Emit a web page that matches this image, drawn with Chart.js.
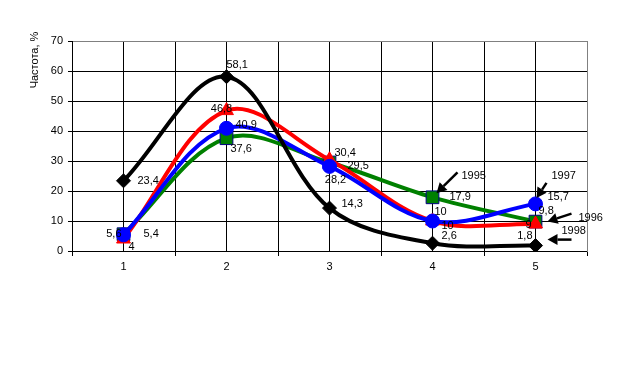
<!DOCTYPE html>
<html>
<head>
<meta charset="utf-8">
<script src="https://cdn.jsdelivr.net/npm/chart.js@4"></script>
<style>
html,body{margin:0;padding:0;background:#fff;}
canvas{display:block;}
</style>
</head>
<body>
<canvas id="c" width="621" height="379"></canvas>
<script>
// ---- data ----
const categories = ['1', '2', '3', '4', '5'];
const seriesBlack = [23.4, 58.1, 14.3, 2.6, 1.8];
const seriesGreen = [5.6, 37.6, 29.5, 17.9, 9.8];
const seriesRed   = [4, 46.8, 30.4, 10, 9];
const seriesBlue  = [5.4, 40.9, 28.2, 10, 15.7];
const yTicks = [0, 10, 20, 30, 40, 50, 60, 70];
const yTitle = 'Частота, %';
const yearNotes = [
  { text: '1995', series: 1, idx: 3 },
  { text: '1997', series: 3, idx: 4 },
  { text: '1996', series: 1, idx: 4 },
  { text: '1998', series: 0, idx: 4 }
];

// ---- label placement (pixel offsets from point, align) ----
const labelPlace = [
  [[14,0,'left'],[0,-12,'left'],[12,-4,'left'],[9,-7,'left'],[-3,-10,'right']],
  [[-2,0,'right'],[4,11,'left'],[18,3,'left'],[17,0,'left'],[3,-11,'left']],
  [[5,8,'left'],[-5,-2,'center'],[5,-7,'left'],[9,5,'left'],[-4,1,'right']],
  [[20,-1,'left'],[9,-3,'left'],[6,14,'center'],[2,-9,'left'],[12,-7,'left']]
];
const notePlace = [
  { tip:[4,-4],  tail:[25,-25], txt:[29,-21] },
  { tip:[1,-6],  tail:[11,-21], txt:[16,-28] },
  { tip:[12,0],  tail:[36,-8],  txt:[43,-4] },
  { tip:[12,-6], tail:[36,-6],  txt:[26,-15] }
];

const FONT = '11px "Liberation Sans", Arial, sans-serif';
const fmt = v => String(v).replace('.', ',');

const extras = {
  id: 'extras',
  afterDatasetsDraw(chart) {
    const ctx = chart.ctx;
    ctx.save();
    ctx.font = FONT;
    ctx.fillStyle = '#000';
    ctx.textBaseline = 'middle';
    chart.data.datasets.forEach((ds, di) => {
      const meta = chart.getDatasetMeta(di);
      meta.data.forEach((pt, i) => {
        const p = labelPlace[di][i];
        ctx.textAlign = p[2];
        ctx.fillText(fmt(ds.data[i]), pt.x + p[0], pt.y + p[1]);
      });
    });
    // year annotations with arrows
    yearNotes.forEach((n, k) => {
      const pt = chart.getDatasetMeta(n.series).data[n.idx];
      const pl = notePlace[k];
      const tx = pt.x + pl.tip[0], ty = pt.y + pl.tip[1];
      const sx = pt.x + pl.tail[0], sy = pt.y + pl.tail[1];
      const ang = Math.atan2(ty - sy, tx - sx);
      const hl = 10, hw = 5.5;
      const bx = tx - Math.cos(ang) * hl, by = ty - Math.sin(ang) * hl;
      ctx.strokeStyle = '#000';
      ctx.lineWidth = 2.5;
      ctx.beginPath();
      ctx.moveTo(sx, sy);
      ctx.lineTo(bx, by);
      ctx.stroke();
      ctx.beginPath();
      ctx.moveTo(tx, ty);
      ctx.lineTo(bx + Math.sin(ang) * hw, by - Math.cos(ang) * hw);
      ctx.lineTo(bx - Math.sin(ang) * hw, by + Math.cos(ang) * hw);
      ctx.closePath();
      ctx.fill();
      ctx.textAlign = 'left';
      ctx.fillText(n.text, pt.x + pl.txt[0], pt.y + pl.txt[1]);
    });
    // y axis title
    ctx.translate(35, 60);
    ctx.rotate(-Math.PI / 2);
    ctx.textAlign = 'center';
    ctx.fillText(yTitle, 0, 0);
    ctx.restore();
  }
};

const common = { fill: false, borderWidth: 4, tension: 0.35, pointBorderWidth: 1 };

new Chart(document.getElementById('c'), {
  type: 'line',
  data: {
    labels: categories,
    datasets: [
      Object.assign({ label: 'black', data: seriesBlack, borderColor: '#000000',
        pointStyle: 'rectRot', pointRadius: 7, pointBackgroundColor: '#000', pointBorderColor: '#000', order: 0 }, common),
      Object.assign({ label: 'green', data: seriesGreen, borderColor: '#008000',
        pointStyle: 'rect', pointRadius: 9, pointBackgroundColor: '#008000', pointBorderColor: '#000080', order: 3 }, common),
      Object.assign({ label: 'red', data: seriesRed, borderColor: '#FF0000',
        pointStyle: 'triangle', pointRadius: 8, pointBackgroundColor: '#FF0000', pointBorderColor: '#FF0000', order: 2 }, common),
      Object.assign({ label: 'blue', data: seriesBlue, borderColor: '#0000FF',
        pointStyle: 'circle', pointRadius: 7, pointBackgroundColor: '#0000FF', pointBorderColor: '#0000FF', order: 1 }, common)
    ]
  },
  options: {
    responsive: false,
    animation: false,
    layout: { padding: { left: 0, right: 34, top: 41, bottom: 0 } },
    plugins: { legend: { display: false }, tooltip: { enabled: false } },
    scales: {
      x: {
        type: 'category',
        offset: true,
        grid: { offset: true, color: c => (c.index === categories.length ? '#808080' : '#000'),
                lineWidth: 1, tickLength: 5, drawOnChartArea: true },
        border: { color: '#000', width: 1 },
        ticks: { color: '#000', font: { family: '"Liberation Sans", Arial, sans-serif', size: 11 }, padding: 4, maxRotation: 0 },
        afterFit: s => { s.height = 128; }
      },
      x2: {
        type: 'linear',
        position: 'top',
        min: 0.5, max: categories.length + 0.5,
        afterBuildTicks: s => { s.ticks = categories.map((_, i) => ({ value: i + 1 })); },
        grid: { color: '#000', drawTicks: false, lineWidth: 1 },
        border: { color: '#808080', width: 1 },
        ticks: { display: false },
        afterFit: s => { s.height = 0; }
      },
      y: {
        min: 0, max: 70,
        afterBuildTicks: s => { s.ticks = yTicks.map(v => ({ value: v })); },
        grid: { color: c => (c.tick && c.tick.value === 70 ? 'rgba(0,0,0,0)' : '#000'),
                tickColor: '#000', tickLength: 4, lineWidth: 1 },
        border: { color: '#000', width: 1 },
        ticks: { color: '#000', font: { family: '"Liberation Sans", Arial, sans-serif', size: 11 }, padding: 5 },
        afterFit: s => { s.width = 72; }
      },
      y2: {
        type: 'linear',
        position: 'right',
        grid: { drawOnChartArea: false, drawTicks: false },
        border: { color: '#808080', width: 1 },
        ticks: { display: false },
        afterFit: s => { s.width = 0; }
      }
    }
  },
  plugins: [extras]
});
</script>
</body>
</html>
